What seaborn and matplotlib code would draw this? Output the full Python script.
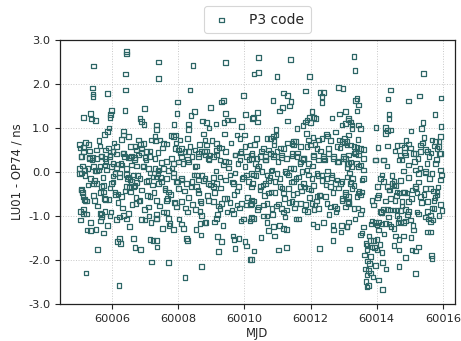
import numpy as np
import pandas as pd
import matplotlib
matplotlib.use("Agg")
import matplotlib.pyplot as plt
import seaborn as sns
from matplotlib.ticker import ScalarFormatter, FixedLocator

# ---- data (MJD, LU01 - OP74 in ns) ----
mjd_a = [60006.44, 60006.44, 60005.44, 60006.40, 60005.40, 60005.42, 60005.42, 60005.86, 60006.41, 60005.98,
         60005.95, 60005.93, 60006.39, 60006.97, 60005.35, 60005.14, 60005.38, 60005.49, 60006.84, 60006.89,
         60006.96, 60005.90, 60005.85, 60005.76, 60007.34, 60007.34, 60006.35, 60006.49, 60006.34, 60005.19,
         60005.14, 60005.03, 60005.29, 60005.63, 60006.28, 60006.13, 60006.80, 60006.94, 60006.03, 60005.79,
         60005.06, 60005.32, 60005.66, 60006.56, 60006.69, 60006.74, 60007.04, 60007.19, 60007.29, 60005.93,
         60006.89, 60005.53, 60007.41, 60007.41]
ns_a = [2.74, 2.68, 2.41, 2.23, 1.91, 1.77, 1.72, 1.78, 1.86, 1.40,
        1.30, 1.24, 1.40, 1.44, 1.33, 1.24, 1.20, 1.17, 1.22, 1.15,
        1.08, 1.00, 0.92, 0.85, 1.07, 0.97, 0.93, 0.80, 0.84, 0.67,
        0.56, 0.55, 0.63, 0.59, 0.74, 0.58, 0.73, 0.65, 0.46, 0.50,
        0.35, 0.33, 0.35, 0.33, 0.58, 0.50, 0.46, 0.73, 0.80, 0.39,
        0.54, 0.50, 2.50, 2.12]

mjd_b = [60005.07, 60005.14, 60005.32, 60005.40, 60005.53, 60005.68, 60005.78, 60005.93, 60006.03, 60006.13,
         60006.33, 60006.38, 60006.49, 60006.59, 60006.69, 60006.79, 60006.89, 60006.99, 60007.14, 60007.29,
         60007.39,
         60005.02, 60005.07, 60005.17, 60005.27, 60005.43, 60005.48, 60005.58, 60005.63, 60005.78, 60005.83,
         60005.98, 60006.03, 60006.18, 60006.28, 60006.44, 60006.59, 60006.74, 60006.94, 60007.09, 60007.14,
         60007.29, 60007.39,
         60005.02, 60005.34, 60005.43, 60005.53, 60005.68, 60005.73, 60005.98, 60006.03, 60006.08, 60006.23,
         60006.44, 60006.49, 60006.54, 60006.59, 60006.69, 60006.74, 60006.84, 60007.04, 60007.24, 60007.40,
         60005.07, 60005.10, 60005.12, 60005.17, 60005.18, 60005.46, 60005.73, 60005.79, 60005.91, 60006.08,
         60006.18, 60006.28, 60006.44, 60006.56, 60006.64, 60006.72, 60006.84, 60007.09, 60007.14, 60007.35,
         60005.05, 60005.14, 60005.22, 60005.63, 60005.68, 60005.78, 60005.93, 60006.13, 60006.23, 60006.34,
         60006.49, 60006.89, 60006.99, 60007.12, 60007.35, 60005.05, 60005.65,
         60005.24, 60005.35, 60005.51, 60005.73, 60006.52, 60006.23, 60006.16, 60006.26, 60006.64, 60006.69,
         60006.86, 60007.14, 60007.24, 60007.19, 60005.56, 60005.21, 60006.21]
ns_b = [0.35, 0.46, 0.31, 0.33, 0.31, 0.36, 0.31, 0.35, 0.46, 0.41,
        0.42, 0.35, 0.33, 0.36, 0.33, 0.39, 0.44, 0.33, 0.35, 0.31,
        0.44,
        0.08, -0.02, 0.05, 0.08, 0.12, 0.03, 0.05, 0.12, 0.16, 0.05,
        0.12, 0.20, 0.18, 0.16, 0.08, 0.16, 0.14, 0.12, 0.08, -0.02,
        0.08, -0.03,
        -0.03, -0.14, -0.26, -0.26, -0.33, -0.30, -0.26, -0.09, -0.03, -0.11,
        -0.05, -0.11, -0.17, -0.22, -0.30, -0.24, -0.14, -0.22, -0.11, -0.26,
        -0.39, -0.47, -0.56, -0.62, -0.65, -0.65, -0.45, -0.62, -0.62, -0.45,
        -0.50, -0.56, -0.33, -0.45, -0.33, -0.71, -0.64, -0.79, -0.56, -0.64,
        -0.90, -0.94, -0.95, -0.94, -1.02, -0.90, -1.00, -1.08, -1.02, -0.98,
        -0.94, -1.08, -1.09, -1.00, -1.05, -1.09, -1.11,
        -1.32, -1.33, -1.30, -1.38, -1.23, -1.51, -1.58, -1.62, -1.51, -1.71,
        -1.76, -1.53, -1.56, -2.04, -1.76, -2.29, -2.57]

mjd_c = [60008.44, 60009.43, 60010.29, 60008.36, 60007.98, 60007.96, 60008.39, 60008.49, 60008.98, 60009.30,
         60009.37, 60009.42, 60009.97, 60010.04, 60009.47, 60009.64, 60010.24, 60008.73, 60008.86, 60008.93,
         60009.14, 60009.38, 60008.31, 60008.31, 60007.87, 60007.78, 60007.85, 60007.92, 60008.05, 60008.28,
         60008.76, 60008.81, 60008.86, 60009.16, 60009.23, 60009.39, 60009.77, 60009.87, 60010.00, 60009.92,
         60010.17, 60007.45, 60007.55, 60007.65,
         60007.90, 60008.00, 60008.10, 60008.31, 60008.51, 60008.61, 60008.79, 60008.96, 60009.16, 60009.42,
         60009.72, 60009.90, 60010.07, 60010.23]
ns_c = [2.42, 2.48, 2.23, 1.86, 1.59, 1.33, 1.29, 1.37, 1.47, 1.59,
        1.62, 1.33, 1.74, 1.31, 1.18, 1.18, 1.21, 1.16, 1.12, 1.00,
        1.09, 1.12, 1.09, 0.97, 1.08, 0.83, 0.80, 0.84, 0.73, 0.76,
        0.86, 0.73, 0.61, 0.65, 0.56, 0.86, 0.84, 0.76, 0.84, 1.03,
        0.61, 0.73, 0.65, 0.64,
        0.54, 0.50, 0.54, 0.46, 0.50, 0.42, 0.46, 0.39, 0.50, 0.46,
        0.39, 0.46, 0.35, 0.42]

mjd_d = [60007.50, 60007.80, 60007.85, 60008.00, 60008.10, 60008.20, 60008.30, 60008.41, 60008.51, 60008.61,
         60008.71, 60008.81, 60008.91, 60009.06, 60009.16, 60009.26, 60009.37, 60009.52, 60009.72, 60009.87,
         60010.02, 60010.22, 60007.40, 60007.55, 60007.70,
         60007.35, 60007.50, 60007.65, 60007.85, 60007.95, 60008.10, 60008.25, 60008.41, 60008.56, 60008.61,
         60008.81, 60008.91, 60009.06, 60009.16, 60009.26, 60009.42, 60009.57, 60009.67, 60009.82, 60009.97,
         60010.12, 60010.27, 60007.60, 60007.70, 60008.00,
         60007.65, 60007.90, 60007.95, 60008.10, 60008.28, 60008.56, 60008.61, 60008.69, 60008.91, 60009.06,
         60009.26, 60009.31, 60009.47, 60009.62, 60009.67, 60009.77, 60009.92, 60010.07, 60010.22, 60008.66,
         60008.71,
         60007.35, 60007.65, 60007.70, 60007.75, 60007.53, 60007.85, 60008.10, 60008.15, 60008.28, 60008.25,
         60008.53, 60008.66, 60008.69, 60008.84, 60009.09, 60009.16, 60009.19, 60009.31, 60009.65, 60009.69,
         60009.84, 60010.02, 60010.07, 60009.90, 60010.17, 60010.22, 60009.72, 60009.21, 60007.34, 60007.36,
         60010.22,
         60007.70, 60008.71, 60008.20]
ns_d = [0.21, 0.31, 0.20, 0.23, 0.35, 0.46, 0.23, 0.35, 0.12, 0.35,
        0.46, 0.39, 0.31, 0.35, 0.39, 0.27, 0.16, 0.23, 0.39, 0.27,
        0.12, 0.39, 0.05, 0.08, 0.03,
        -0.11, -0.22, -0.14, -0.11, -0.22, -0.18, -0.26, -0.22, -0.07, -0.18,
        -0.14, -0.26, -0.33, -0.26, -0.11, -0.18, -0.07, -0.26, -0.33, -0.11,
        -0.22, -0.07, -0.41, -0.45, -0.37,
        -0.64, -0.70, -0.79, -0.67, -0.91, -0.33, -0.48, -0.70, -0.64, -0.67,
        -0.83, -0.71, -0.60, -0.86, -0.94, -0.75, -0.71, -0.75, -0.64, -0.90,
        -0.98,
        -1.05, -0.92, -1.05, -1.17, -1.28, -1.30, -1.18, -1.28, -1.55, -1.51,
        -1.30, -1.17, -1.43, -1.15, -1.13, -1.05, -1.47, -1.58, -1.45, -1.53,
        -1.51, -1.58, -1.68, -1.11, -1.11, -1.05, -1.73, -1.81, -1.55, -1.70,
        -1.98,
        -2.06, -2.15, -2.39]

mjd_e = [60010.43, 60011.40, 60010.43, 60010.98, 60011.97, 60011.18, 60011.30, 60011.84, 60012.29, 60012.40,
         60012.35, 60012.35, 60012.85, 60012.98, 60010.86, 60011.41, 60011.37, 60011.16, 60011.06, 60010.40,
         60010.27, 60010.40, 60012.04, 60011.97, 60011.89, 60012.09, 60012.17, 60011.84, 60011.99, 60011.31,
         60012.65, 60012.88, 60013.05, 60013.15, 60012.95, 60013.05, 60011.77, 60010.96, 60010.96, 60010.88,
         60010.78, 60010.68, 60010.36, 60011.59, 60011.49, 60011.54, 60011.44, 60011.49, 60011.94, 60012.07,
         60011.87, 60012.24, 60012.35, 60012.48, 60012.52, 60012.75, 60012.88, 60012.95, 60013.02, 60013.15,
         60010.58, 60010.73, 60010.90, 60011.18, 60011.69, 60011.99, 60012.19, 60012.55, 60012.80, 60013.10,
         60010.38, 60010.63, 60010.88, 60011.13, 60011.44, 60011.79, 60012.09, 60012.40, 60012.70, 60013.00]
ns_e = [2.60, 2.56, 2.26, 2.17, 2.17, 1.79, 1.74, 1.84, 1.80, 1.80,
        1.71, 1.58, 1.92, 1.90, 1.62, 1.60, 1.50, 1.47, 1.39, 1.35,
        1.24, 1.14, 1.37, 1.24, 1.18, 1.24, 1.22, 1.14, 1.12, 1.16,
        1.23, 1.32, 1.37, 1.18, 1.07, 1.10, 1.06, 0.97, 0.84, 0.80,
        0.76, 0.76, 0.76, 0.99, 0.70, 0.69, 0.65, 0.61, 0.73, 0.79,
        0.88, 0.73, 0.76, 0.86, 0.82, 0.91, 0.73, 0.69, 0.76, 0.84,
        0.54, 0.50, 0.61, 0.54, 0.58, 0.61, 0.54, 0.54, 0.58, 0.61,
        0.31, 0.35, 0.39, 0.33, 0.36, 0.31, 0.35, 0.31, 0.35, 0.31]

mjd_f = [60010.22, 60010.33, 60010.48, 60010.63, 60010.78, 60010.88, 60010.98, 60011.13, 60011.28, 60011.44,
         60011.59, 60011.69, 60011.79, 60011.94, 60012.09, 60012.24, 60012.40, 60012.55, 60012.70, 60012.85,
         60013.00, 60013.15,
         60010.22, 60010.38, 60010.53, 60010.68, 60010.83, 60010.98, 60011.08, 60011.23, 60011.34, 60011.49,
         60011.64, 60011.74, 60011.89, 60012.04, 60012.19, 60012.35, 60012.50, 60012.65, 60012.80, 60012.95,
         60013.10,
         60010.25, 60010.48, 60010.63, 60010.73, 60010.80, 60010.93, 60011.08, 60011.18, 60011.34, 60011.49,
         60011.59, 60011.69, 60011.79, 60011.94, 60012.09, 60012.19, 60012.29, 60012.45, 60012.60, 60012.75,
         60012.90, 60013.05, 60013.15,
         60010.22, 60010.43, 60010.58, 60010.68, 60010.83, 60011.03, 60011.13, 60011.28, 60011.44, 60011.54,
         60011.69, 60011.81, 60011.91, 60012.04, 60012.14, 60012.24, 60012.50, 60012.60, 60012.80, 60012.95,
         60013.05, 60013.15,
         60010.22, 60010.27, 60010.58, 60010.68, 60011.23, 60011.56,
         60010.73, 60010.88, 60010.50, 60010.91, 60011.18, 60011.28, 60012.07, 60012.19, 60012.68, 60012.70,
         60012.92, 60013.10, 60012.68,
         60010.29, 60010.17, 60011.03, 60011.28, 60012.27]
ns_f = [0.31, 0.20, 0.35, 0.27, 0.42, 0.35, 0.46, 0.39, 0.31, 0.42,
        0.35, 0.23, 0.31, 0.20, 0.39, 0.27, 0.35, 0.42, 0.31, 0.23,
        0.35, 0.20,
        -0.03, 0.08, 0.01, -0.07, 0.05, -0.03, -0.14, 0.01, -0.07, 0.08,
        -0.11, 0.01, 0.05, -0.14, -0.03, -0.07, -0.14, -0.07, -0.18, -0.22,
        -0.11,
        -0.26, -0.33, -0.26, -0.48, -0.45, -0.22, -0.33, -0.48, -0.37, -0.22,
        -0.48, -0.33, -0.26, -0.37, -0.30, -0.56, -0.52, -0.56, -0.33, -0.26,
        -0.26, -0.45, -0.56,
        -0.71, -0.79, -0.75, -0.71, -0.83, -0.73, -0.83, -0.86, -0.67, -0.71,
        -0.71, -0.86, -0.90, -0.71, -0.75, -0.83, -0.71, -0.79, -0.83, -0.64,
        -0.79, -0.71,
        -1.02, -1.05, -1.00, -1.00, -1.02, -1.07,
        -1.33, -1.24, -1.48, -1.45, -1.28, -1.30, -1.18, -1.24, -1.20, -1.32,
        -1.36, -1.24, -1.56,
        -1.79, -1.98, -1.77, -1.72, -1.73]

mjd_g = [60013.31, 60013.34, 60015.41, 60014.42, 60014.34, 60014.96, 60015.29, 60015.95, 60013.41, 60013.36,
         60013.46, 60013.41, 60014.37, 60014.37, 60015.76, 60015.40, 60015.36, 60015.95, 60013.15, 60013.20,
         60013.25, 60013.26, 60013.46, 60013.51, 60013.98, 60014.26, 60014.32, 60014.42, 60014.27, 60015.04,
         60015.43, 60015.68, 60015.78, 60015.88, 60015.93, 60013.44, 60013.10, 60013.20, 60013.31, 60013.41,
         60013.51, 60013.61, 60014.04, 60014.32, 60014.62, 60014.75, 60014.85, 60014.97, 60015.33, 60015.48,
         60015.73, 60015.83, 60015.90, 60014.72, 60014.85, 60015.25, 60015.58, 60013.36, 60013.05, 60013.96,
         60014.21, 60015.17]
ns_g = [2.62, 2.30, 2.24, 1.86, 1.66, 1.61, 1.73, 1.68, 1.67, 1.62,
        1.52, 1.39, 1.30, 1.22, 1.31, 1.12, 0.99, 1.03, 1.22, 1.14,
        1.07, 0.99, 1.07, 0.99, 1.01, 1.01, 0.94, 0.95, 0.88, 0.93,
        0.79, 0.73, 0.69, 0.69, 0.80, 0.74, 0.69, 0.61, 0.58, 0.56,
        0.54, 0.51, 0.56, 0.59, 0.60, 0.61, 0.56, 0.64, 0.61, 0.51,
        0.59, 0.54, 0.42, 0.39, 0.44, 0.31, 0.35, 0.42, 0.31, 0.27,
        0.27, 0.42]

mjd_h = [60013.15, 60013.36, 60013.46, 60013.61, 60013.96, 60014.21, 60014.77, 60014.87, 60015.12, 60015.33,
         60015.53, 60015.93, 60014.97, 60015.17, 60015.27, 60015.48, 60015.68, 60015.78, 60015.93, 60013.10,
         60013.20, 60013.25, 60013.46, 60013.61, 60013.51,
         60013.20, 60013.31, 60013.25, 60013.46, 60013.56, 60013.56, 60013.61, 60013.13, 60013.31, 60013.56,
         60013.41, 60013.51, 60013.86, 60013.91, 60014.03, 60014.06, 60014.11, 60014.16, 60014.21, 60014.32,
         60014.37, 60014.47, 60014.52, 60014.57, 60014.62, 60014.67, 60014.55, 60014.42, 60014.82, 60014.92,
         60014.77, 60014.97, 60015.07, 60015.17, 60015.22, 60015.33, 60015.48, 60015.53, 60015.63, 60015.73,
         60015.83, 60015.93, 60015.83,
         60014.11, 60014.21, 60014.32, 60014.42, 60014.52, 60014.62, 60014.72, 60014.87, 60014.97, 60015.27,
         60015.53, 60015.63, 60015.73, 60015.88, 60015.98,
         60013.86, 60013.96, 60014.01, 60014.06, 60014.16, 60014.26, 60014.37, 60014.52, 60014.62, 60014.67,
         60014.72, 60014.82, 60014.87, 60015.02, 60015.12, 60015.53, 60015.63, 60015.48, 60015.63, 60015.70,
         60013.10, 60013.15, 60013.51, 60014.57, 60014.67, 60014.82, 60015.04, 60015.27, 60015.17, 60015.07,
         60014.87, 60015.66, 60015.68,
         60013.81, 60013.91, 60014.01, 60013.71, 60013.86, 60014.01, 60014.16, 60013.71, 60013.17, 60014.52,
         60014.67,
         60013.78, 60013.66, 60013.76, 60013.81, 60013.71, 60013.68, 60013.76, 60013.71, 60014.18, 60014.06,
         60014.28, 60014.67, 60015.17]
ns_h = [0.39, 0.46, 0.39, 0.31, 0.27, 0.27, 0.27, 0.39, 0.42, 0.46,
        0.46, 0.42, 0.16, 0.05, -0.03, 0.01, -0.03, 0.20, 0.05, 0.20,
        0.23, 0.12, 0.12, 0.05, 0.16,
        -0.26, -0.30, -0.37, -0.48, -0.45, -0.18, -0.14, -0.67, -0.83, -0.86,
        -0.56, -0.52, -0.64, -0.75, -0.33, -0.52, -0.14, -0.07, -0.22, -0.33,
        -0.41, -0.26, -0.22, -0.30, -0.45, -0.48, -0.64, -0.60, -0.45, -0.48,
        -0.67, -0.67, -0.41, -0.33, -0.48, -0.56, -0.37, -0.67, -0.37, -0.64,
        -0.45, -0.18, -0.52,
        -0.90, -0.85, -0.85, -0.86, -0.86, -0.86, -0.88, -0.85, -0.90, -0.95,
        -0.90, -0.98, -0.83, -0.98, -0.88,
        -1.11, -1.15, -1.20, -1.13, -1.18, -1.17, -1.18, -1.28, -0.98, -1.05,
        -1.13, -1.15, -1.11, -1.09, -1.32, -1.36, -1.36, -1.02, -1.13, -1.09,
        -1.24, -1.13, -1.43, -1.45, -1.53, -1.45, -1.48, -1.70, -1.79, -1.77,
        -1.94, -1.89, -1.96,
        -1.55, -1.56, -1.53, -1.66, -1.70, -1.77, -1.83, -1.77, -1.75, -1.67,
        -1.77,
        -2.08, -2.20, -2.23, -2.29, -2.34, -2.49, -2.57, -2.61, -2.67, -2.45,
        -2.20, -2.14, -2.30]

# dense core points (estimated from the crowded band of the reference)
mjd_i = [60005.02, 60005.06, 60005.10, 60005.14, 60005.18, 60005.22,
         60005.27, 60005.31, 60005.35, 60005.39, 60005.43, 60005.47,
         60005.52, 60005.56, 60005.60, 60005.64, 60005.68, 60005.72,
         60005.77, 60005.81, 60005.85, 60005.89, 60005.93, 60005.97,
         60006.02, 60006.06, 60006.10, 60006.14, 60006.18, 60006.22,
         60006.27, 60006.31, 60006.35, 60006.39, 60006.43, 60006.47,
         60006.52, 60006.56, 60006.60, 60006.64, 60006.68, 60006.72,
         60006.77, 60006.81, 60006.85, 60006.89, 60006.93, 60006.97,
         60007.02, 60007.06, 60007.10, 60007.14, 60007.18, 60007.22,
         60007.27, 60007.31, 60007.35, 60007.39, 60007.43, 60007.47,
         60007.52, 60007.56, 60007.60, 60007.64, 60007.68, 60007.72,
         60007.77, 60007.81, 60007.85, 60007.89, 60007.93, 60007.97,
         60008.02, 60008.06, 60008.10, 60008.14, 60008.18, 60008.22,
         60008.27, 60008.31, 60008.35, 60008.39, 60008.43, 60008.47,
         60008.52, 60008.56, 60008.60, 60008.64, 60008.68, 60008.72,
         60008.77, 60008.81, 60008.85, 60008.89, 60008.93, 60008.97,
         60009.02, 60009.06, 60009.10, 60009.14, 60009.18, 60009.22,
         60009.27, 60009.31, 60009.35, 60009.39, 60009.43, 60009.47,
         60009.52, 60009.56, 60009.60, 60009.64, 60009.68, 60009.72,
         60009.77, 60009.81, 60009.85, 60009.89, 60009.93, 60009.97,
         60010.02, 60010.06, 60010.10, 60010.14, 60010.18, 60010.22,
         60010.27, 60010.31, 60010.35, 60010.39, 60010.43, 60010.47,
         60010.52, 60010.56, 60010.60, 60010.64, 60010.68, 60010.72,
         60010.77, 60010.81, 60010.85, 60010.89, 60010.93, 60010.97,
         60011.02, 60011.06, 60011.10, 60011.14, 60011.18, 60011.22,
         60011.27, 60011.31, 60011.35, 60011.39, 60011.43, 60011.47,
         60011.52, 60011.56, 60011.60, 60011.64, 60011.68, 60011.72,
         60011.77, 60011.81, 60011.85, 60011.89, 60011.93, 60011.97,
         60012.02, 60012.06, 60012.10, 60012.14, 60012.18, 60012.22,
         60012.27, 60012.31, 60012.35, 60012.39, 60012.43, 60012.47,
         60012.52, 60012.56, 60012.60, 60012.64, 60012.68, 60012.72,
         60012.77, 60012.81, 60012.85, 60012.89, 60012.93, 60012.97,
         60013.02, 60013.06, 60013.10, 60013.14, 60013.18, 60013.22,
         60013.27, 60013.31, 60013.35, 60013.39, 60013.43, 60013.47,
         60013.52, 60013.56, 60013.60, 60013.64, 60013.68, 60013.72,
         60013.77, 60013.81, 60013.85, 60013.89, 60013.93, 60013.97,
         60014.02, 60014.06, 60014.10, 60014.14, 60014.18, 60014.22,
         60014.27, 60014.31, 60014.35, 60014.39, 60014.43, 60014.47,
         60014.52, 60014.56, 60014.60, 60014.64, 60014.68, 60014.72,
         60014.77, 60014.81, 60014.85, 60014.89, 60014.93, 60014.97,
         60015.02, 60015.06, 60015.10, 60015.14, 60015.18, 60015.22,
         60015.27, 60015.31, 60015.35, 60015.39, 60015.43, 60015.47,
         60015.52, 60015.56, 60015.60, 60015.64, 60015.68, 60015.72,
         60015.77, 60015.81, 60015.85, 60015.89, 60015.93, 60015.97]
ns_i = [0.62, -0.41, 0.14, -0.85, -0.08, -0.66,
        -0.29, 0.48, -1.15, 0.27, -0.53, -0.19,
        0.02, -0.77, 0.71, -0.47, -0.97, -0.12,
        -0.60, 0.24, -1.21, 0.55, -0.36, -0.91,
        -0.23, 0.66, -0.51, 0.09, -0.69, -0.02,
        0.19, -0.82, 0.43, -0.43, -1.07, -0.15,
        -0.34, 0.58, -0.74, -0.07, 0.29, -0.58,
        -0.08, -0.66, 0.62, -0.41, 0.14, -0.85,
        0.27, -0.53, -0.19, 0.48, -1.15, -0.29,
        -0.47, 0.71, -0.97, 0.02, -0.77, -0.12,
        0.55, -0.91, -0.36, 0.24, -0.60, -1.21,
        -0.51, 0.09, -0.02, -0.69, 0.66, -0.23,
        -1.07, 0.43, -0.15, 0.19, -0.43, -0.82,
        0.29, -0.58, 0.58, -0.34, -0.74, -0.07,
        -0.85, 0.14, -0.41, 0.62, -0.66, -0.08,
        -0.19, -1.15, 0.48, -0.53, 0.27, -0.29,
        0.71, -0.12, -0.47, 0.02, -0.97, -0.77,
        -0.36, 0.55, -1.21, -0.60, 0.24, -0.91,
        0.09, -0.69, 0.66, -0.23, -0.51, -0.02,
        -0.43, 0.19, -0.82, 0.43, -0.15, -1.07,
        0.58, -0.07, -0.58, 0.29, -0.74, -0.34,
        -0.66, 0.62, -0.08, -0.85, 0.14, -0.41,
        0.48, -0.29, -0.53, 0.27, -1.15, -0.19,
        -0.12, 0.02, -0.97, 0.71, -0.47, -0.77,
        0.24, -1.21, 0.55, -0.36, -0.91, -0.60,
        -0.02, 0.66, -0.69, 0.09, -0.23, -0.51,
        -0.82, -0.15, 0.43, -1.07, 0.19, -0.43,
        0.29, -0.34, -0.74, 0.58, -0.07, -0.58,
        -0.41, 0.14, -0.85, 0.62, -0.66, -0.08,
        -0.53, 0.48, -0.19, -1.15, 0.27, -0.29,
        0.02, -0.97, 0.71, -0.12, -0.47, -0.77,
        -0.91, 0.24, -0.36, 0.55, -1.21, -0.60,
        0.66, -0.51, 0.09, -0.69, -0.02, -0.23,
        -0.15, 0.43, -1.07, 0.19, -0.82, -0.43,
        -0.95, -1.38, -1.25, -1.88, -1.62, -2.02,
        -1.45, -1.92, -1.18, -2.38, -1.71, -2.12,
        -0.58, -1.32, -1.64, -0.92, -2.05, -1.41,
        -0.66, 0.14, -1.02, -0.41, -1.24, -0.08,
        -0.29, 0.48, -0.53, -1.15, 0.27, -0.19,
        -0.77, 0.02, -0.47, 0.71, -0.97, -0.12,
        0.55, -0.60, -1.21, 0.24, -0.36, -0.91,
        -0.23, 0.09, -0.69, 0.66, -0.51, -0.02,
        0.19, -1.07, -0.15, 0.43, -0.82, -0.43,
        -0.58, 0.29, -0.34, 0.58, -0.74, -0.07]

x_ticks = [60006, 60008, 60010, 60012, 60014, 60016]
y_ticks = [-3.0, -2.0, -1.0, 0.0, 1.0, 2.0, 3.0]
series_label = "P3 code"
x_label = "MJD"
y_label = "LU01 - OP74 / ns"

mjd_parts = [mjd_a, mjd_b, mjd_c, mjd_d, mjd_e, mjd_f, mjd_g, mjd_h, mjd_i]
ns_parts = [ns_a, ns_b, ns_c, ns_d, ns_e, ns_f, ns_g, ns_h, ns_i]
for i, (m, n) in enumerate(zip(mjd_parts, ns_parts)):
    assert len(m) == len(n), (i, len(m), len(n))

df = pd.DataFrame({
    "MJD": np.concatenate(mjd_parts),
    "diff": np.concatenate(ns_parts),
})

# ---- plotting ----
sns.set_style("ticks")
plt.rcParams["font.family"] = ["DejaVu Sans"]

fig = plt.figure(figsize=(4.61, 3.41), dpi=100)
ax = fig.add_axes([0.130, 0.108, 0.857, 0.775])

color = "#2d6666"
sns.scatterplot(data=df, x="MJD", y="diff", ax=ax, marker="s", s=11,
                facecolor="none", edgecolor=color, linewidth=0.9,
                label=series_label)

ax.set_xlim(60004.42, 60016.37)
ax.set_ylim(-3.0, 3.0)
ax.xaxis.set_major_locator(FixedLocator(x_ticks))
ax.yaxis.set_major_locator(FixedLocator(y_ticks))
fmt = ScalarFormatter(useOffset=False)
ax.xaxis.set_major_formatter(fmt)
ax.set_yticklabels([f"{v:.1f}" for v in y_ticks])
ax.tick_params(labelsize=8.2, length=3.5, width=0.8)
ax.set_xlabel(x_label, fontsize=8.4, labelpad=2)
ax.set_ylabel(y_label, fontsize=8.4, labelpad=3)
ax.grid(True, linestyle=":", color="#c8c8c8", linewidth=0.7)
for sp in ax.spines.values():
    sp.set_linewidth(0.9)
    sp.set_color("#222222")

leg = ax.legend(loc="lower center", bbox_to_anchor=(0.5, 1.0), fontsize=10,
                frameon=True, handletextpad=1.2, borderpad=0.45,
                markerscale=1.0, handlelength=1.6)
leg.get_frame().set_edgecolor("#cccccc")
leg.get_frame().set_linewidth(0.8)
for h in leg.legend_handles:
    h.set_facecolor("none")
    h.set_edgecolor(color)

fig.savefig("out.png", dpi=100)
